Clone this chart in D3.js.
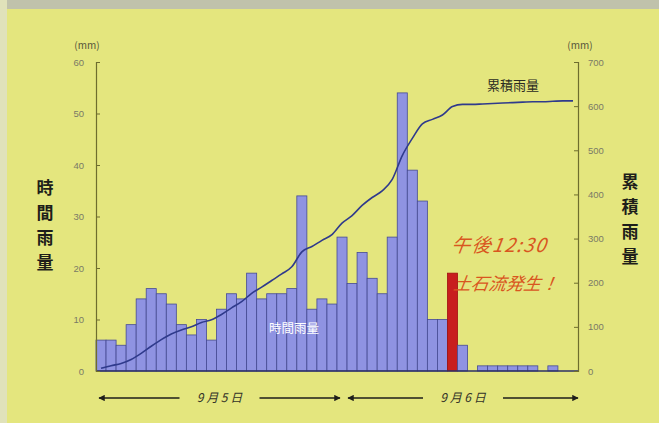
<!DOCTYPE html>
<html>
<head>
<meta charset="utf-8">
<script src="https://cdn.jsdelivr.net/npm/d3@7"></script>
<style>
  body { margin: 0; background: #e4e67e; }
  svg { display: block; font-family: "Noto Sans CJK JP", "Noto Sans", sans-serif; }
</style>
</head>
<body>
<svg id="chart" width="659" height="423"></svg>
<script>
// hourly rain, 9/5 01:00 .. 9/6 24:00
var hours = d3.range(1, 49);
var hourly = [6, 6, 5, 9, 14, 16, 15, 13, 9, 7, 10, 6,
              12, 15, 14, 19, 14, 15, 15, 16, 34, 12, 14, 13,
              26, 17, 23, 18, 15, 26, 54, 39, 33, 10, 10, 19,
              5, 0, 1, 1, 1, 1, 1, 1, 0, 1, 0, 0];
var cumulative = [6, 12, 17, 26, 40, 56, 71, 84, 93, 100, 110, 116,
                  128, 143, 157, 176, 190, 205, 220, 236, 270, 282, 296, 309,
                  335, 352, 375, 393, 408, 434, 488, 527, 560, 570, 580, 599,
                  604, 604, 605, 606, 607, 608, 609, 610, 610, 611, 612, 612];
var slideHour = 36;
var leftTicks = [0, 10, 20, 30, 40, 50, 60];
var rightTicks = [0, 100, 200, 300, 400, 500, 600, 700];
var days = [{label: "9 月 5 日", from: 1, to: 24}, {label: "9 月 6 日", from: 25, to: 48}];

var svg = d3.select("#chart");

// photo edges
svg.append("rect").attr("x", 0).attr("y", 0).attr("width", 659).attr("height", 9).attr("fill", "#c0c2ab");
svg.append("rect").attr("x", 0).attr("y", 0).attr("width", 7).attr("height", 423).attr("fill", "#e0e2ba");

var x = d3.scaleBand().domain(hours).range([96, 578]).padding(0);
var y = d3.scaleLinear().domain([0, 60]).range([371, 62]);
var y2 = d3.scaleLinear().domain([0, 700]).range([371, 62]);

// bars
svg.append("g").selectAll("rect").data(hours).enter().append("rect")
  .attr("x", function(d){ return x(d); })
  .attr("y", function(d, i){ return y(hourly[i]); })
  .attr("width", x.bandwidth())
  .attr("height", function(d, i){ return y(0) - y(hourly[i]); })
  .attr("fill", function(d){ return d === slideHour ? "#c81e1e" : "#8f93e2"; })
  .attr("stroke", function(d){ return d === slideHour ? "#a01010" : "#454a94"; })
  .attr("stroke-width", 0.8);

// baseline
svg.append("line").attr("x1", 96).attr("x2", 578).attr("y1", 371).attr("y2", 371)
  .attr("stroke", "#2d3166").attr("stroke-width", 1.5);

// cumulative line
var line = d3.line()
  .x(function(d, i){ return x(hours[i]) + x.bandwidth() / 2; })
  .y(function(d){ return y2(d); })
  .curve(d3.curveMonotoneX);
svg.append("path").datum(cumulative)
  .attr("d", line).attr("fill", "none")
  .attr("stroke", "#2f3a8c").attr("stroke-width", 1.6);

// axes
var leftAxis = d3.axisLeft(y).tickValues(leftTicks).tickSize(-4).tickPadding(12);
var gl = svg.append("g").attr("transform", "translate(96,0)").call(leftAxis);
var rightAxis = d3.axisRight(y2).tickValues(rightTicks).tickSize(-4).tickPadding(10);
var gr = svg.append("g").attr("transform", "translate(578,0)").call(rightAxis);
[gl, gr].forEach(function(g){
  g.select(".domain").attr("stroke", "#6e6d2e").attr("stroke-width", 1.2);
  g.selectAll(".tick line").attr("stroke", "#6e6d2e");
  g.selectAll(".tick text").attr("fill", "#7a7a66").attr("font-size", 9.5)
    .attr("font-family", "Liberation Sans, sans-serif");
});

// units
svg.append("text").attr("x", 87).attr("y", 49).attr("text-anchor", "middle")
  .attr("font-size", 10).attr("fill", "#55553a").text("(mm)");
svg.append("text").attr("x", 580).attr("y", 49).attr("text-anchor", "middle")
  .attr("font-size", 10).attr("fill", "#55553a").text("(mm)");

// vertical titles
function vtitle(str, cx, top) {
  svg.append("g").selectAll("text").data(str.split("")).enter().append("text")
    .attr("x", cx).attr("y", function(d, i){ return top + i * 25; })
    .attr("text-anchor", "middle").attr("font-size", 17).attr("font-weight", "bold")
    .attr("fill", "#1e1e1a").text(function(d){ return d; });
}
vtitle("時間雨量", 45, 194);
vtitle("累積雨量", 630, 188);

// labels
svg.append("text").attr("x", 513).attr("y", 90).attr("text-anchor", "middle")
  .attr("font-size", 13).attr("fill", "#2a2a22").text("累積雨量");
svg.append("text").attr("x", 294).attr("y", 333).attr("text-anchor", "middle")
  .attr("font-size", 12.5).attr("fill", "#ffffff").text("時間雨量");

svg.append("text").attr("x", 500).attr("y", 252).attr("text-anchor", "middle")
  .attr("font-size", 19).attr("font-style", "italic").attr("fill", "#d9561f")
  .attr("letter-spacing", 1.5)
  .attr("transform", "skewX(-8) translate(34,0)")
  .text("午後12:30");
svg.append("text").attr("x", 506).attr("y", 290).attr("text-anchor", "middle")
  .attr("font-size", 17.5).attr("font-style", "italic").attr("fill", "#d9561f")
  .attr("transform", "skewX(-8) translate(40,0)")
  .text("土石流発生！");

// day arrows
var defs = svg.append("defs");
defs.append("marker").attr("id", "ah").attr("viewBox", "0 0 10 10")
  .attr("refX", 9).attr("refY", 5).attr("markerWidth", 5).attr("markerHeight", 4)
  .attr("orient", "auto-start-reverse")
  .append("path").attr("d", "M0,0L10,5L0,10z").attr("fill", "#1e1e1a");

var ay = 398;
days.forEach(function(d, k){
  var x0 = x(d.from) + 3 + k * 8, x1 = x(d.to) + x.bandwidth() + 3 - k * 3;
  var mid = (x0 + x1) / 2;
  svg.append("line").attr("x1", x0).attr("x2", mid - 40).attr("y1", ay).attr("y2", ay)
    .attr("stroke", "#1e1e1a").attr("stroke-width", 1.6).attr("marker-start", "url(#ah)");
  svg.append("line").attr("x1", mid + 40).attr("x2", x1).attr("y1", ay).attr("y2", ay)
    .attr("stroke", "#1e1e1a").attr("stroke-width", 1.6).attr("marker-end", "url(#ah)");
  svg.append("text").attr("x", mid).attr("y", ay + 4).attr("text-anchor", "middle")
    .attr("font-size", 12).attr("font-style", "italic").attr("fill", "#333328")
    .text(d.label);
});
</script>
</body>
</html>
